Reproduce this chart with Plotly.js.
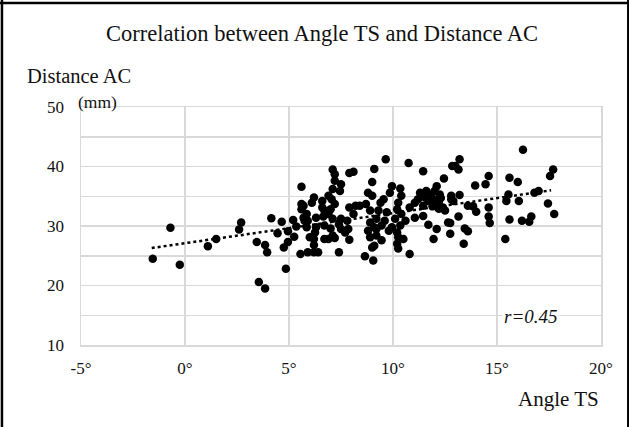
<!DOCTYPE html>
<html>
<head>
<meta charset="utf-8">
<script src="https://cdn.plot.ly/plotly-3.0.1.min.js"></script>
<style>
html,body{margin:0;padding:0;background:#fff;}
#chart{width:629px;height:427px;}
</style>
</head>
<body>
<div id="chart"></div>
<script>
// Angle TS (degrees) and Distance AC (mm)
const angleTS = [
 -1.55,-0.7,-0.25,1.1,1.5,2.7,2.6,3.45,3.85,3.95,3.55,3.85,4.15,4.85,4.45,4.65,4.95,4.75,4.95,5.25,5.2,5.35,5.6,5.6,5.6,5.55,5.75,
 7.1,7.2,7.9,8.1,9.1,7.2,7.5,7.45,7.1,9.0,8.8,9.0,6.2,6.1,5.7,6.6,6.9,7.05,6.6,6.7,7.0,7.2,7.9,8.2,8.4,8.7,8.9,8.1,9.4,5.85,5.9,5.7,6.3,6.65,6.9,7.1,7.5,7.4,7.8,5.85,6.3,6.7,7.0,6.25,6.0,7.5,7.7,7.85,8.9,8.8,9.1,8.9,9.2,6.2,6.2,6.7,6.9,7.1,7.2,7.9,9.0,9.1,5.9,6.2,6.4,7.4,8.65,9.05,
 9.65,10.75,11.45,12.85,12.45,9.95,10.35,9.85,10.4,9.55,10.25,12.1,12.0,12.25,11.8,11.55,11.2,11.05,11.7,11.95,12.2,12.4,12.8,11.45,10.8,9.3,9.7,10.2,10.4,11.05,11.45,12.5,9.2,9.6,10.1,10.6,9.45,9.95,10.35,11.7,12.65,9.2,9.8,10.2,12.1,12.75,10.25,10.5,11.95,9.45,10.2,10.25,10.8,
 11.3,11.9,12.2,11.6,12.3,
 16.25,13.2,13.0,13.15,14.6,15.6,16.0,13.95,14.45,15.55,12.8,13.2,12.9,15.45,16.05,13.6,13.85,14.0,14.6,14.6,13.15,15.6,16.2,14.65,12.75,13.45,13.6,15.4,13.4,
 17.7,17.55,17.0,16.8,17.45,17.75,16.65,16.55
];
const distanceAC = [
 24.5,29.7,23.5,26.6,27.8,30.6,29.4,27.3,26.8,25.6,20.6,19.5,31.3,22.8,28.8,30.7,29.1,26.4,27.3,28.2,31.0,29.9,36.6,33.7,32.8,25.3,30.9,
 39.5,38.7,38.9,39.1,39.6,37.6,37.0,35.9,36.2,37.4,35.6,35.1,34.8,33.9,33.4,34.2,35.1,34.5,33.1,32.6,32.8,33.7,33.1,33.4,33.4,33.7,32.6,32.0,33.9,32.0,30.9,31.4,31.4,31.6,32.0,31.2,31.2,30.3,30.9,29.8,29.8,30.1,29.6,28.9,28.1,29.5,28.9,29.5,30.6,29.2,29.8,28.1,28.4,27.8,26.8,27.8,27.8,28.4,28.0,27.7,26.4,26.7,25.6,25.6,25.6,25.6,24.9,24.2,
 41.2,40.6,39.2,40.1,38.0,36.7,36.3,35.6,35.1,34.5,33.9,36.7,35.9,35.3,35.3,34.8,34.5,33.9,34.2,34.5,33.9,33.1,34.5,33.4,33.1,32.6,32.3,32.8,32.0,31.4,31.7,32.6,31.2,30.9,31.2,30.9,30.1,29.8,30.1,30.2,30.6,29.5,29.2,28.9,29.5,28.7,28.1,27.8,27.8,27.6,27.0,26.2,25.3,
 35.6,33.3,32.9,35.9,34.7,
 42.8,41.2,40.1,39.5,38.4,38.1,37.4,36.8,37.0,35.3,35.1,35.2,34.2,34.2,34.2,33.4,33.3,32.4,33.1,31.6,31.6,31.1,30.9,30.5,30.5,29.6,29.1,27.8,27.0,
 39.5,38.4,35.9,35.6,33.8,32.0,31.6,30.7
];
// Linear trendline end points
const trendX = [-1.6, 17.6];
const trendY = [26.3, 36.0];
const xTickVals = [-5, 0, 5, 10, 15, 20];
const xTickText = ["-5°", "0°", "5°", "10°", "15°", "20°"];
const yTickVals = [10, 15, 20, 25, 30, 35, 40, 45, 50];
const yTickText = ["10", "", "20", "", "30", "", "40", "", "50"];
const rLabel = "r=0.45";

const serif = "Liberation Serif, Times New Roman, serif";
const grid = "#d9d9d9";
const ink = "#111";

const traces = [
  {x: angleTS, y: distanceAC, type: "scatter", mode: "markers",
   marker: {color: "#000", size: 8.5}, hoverinfo: "x+y"},
  {x: trendX, y: trendY, type: "scatter", mode: "lines",
   line: {color: "#000", width: 2.5, dash: "dot"}, hoverinfo: "skip"}
];

const layout = {
  width: 629, height: 427,
  margin: {l: 81, r: 28, t: 107, b: 82},
  paper_bgcolor: "#fff", plot_bgcolor: "#fff",
  showlegend: false,
  font: {family: serif, color: ink, size: 16},
  title: {text: "Correlation between Angle TS and Distance AC",
    font: {family: serif, size: 22.5, color: ink},
    x: 0.512, xanchor: "center", y: 0.922, yanchor: "middle"},
  xaxis: {range: [-5, 20], tickvals: xTickVals, ticktext: xTickText,
    showgrid: true, gridcolor: grid, gridwidth: 1.5,
    zeroline: false, showline: true, linecolor: grid, linewidth: 1.5, mirror: true,
    ticks: "outside", ticklen: 7, tickcolor: "rgba(0,0,0,0)",
    tickfont: {family: serif, size: 17, color: ink}, fixedrange: true},
  yaxis: {range: [10, 50], tickvals: yTickVals, ticktext: yTickText,
    showgrid: true, gridcolor: grid, gridwidth: 1.5,
    zeroline: false, showline: true, linecolor: grid, linewidth: 1.5, mirror: true,
    ticks: "outside", ticklen: 12, tickcolor: "rgba(0,0,0,0)",
    tickfont: {family: serif, size: 17, color: ink}, fixedrange: true},
  annotations: [
    {text: "Distance AC", xref: "paper", yref: "paper", x: -0.108, y: 1.13,
     xanchor: "left", yanchor: "middle", showarrow: false,
     font: {family: serif, size: 20.5, color: ink}},
    {text: "(mm)", xref: "paper", yref: "paper", x: -0.01, y: 1.02,
     xanchor: "left", yanchor: "middle", showarrow: false,
     font: {family: serif, size: 17.5, color: ink}},
    {text: "Angle TS", xref: "paper", yref: "paper", x: 1.0, y: -0.225,
     xanchor: "right", yanchor: "middle", showarrow: false,
     font: {family: serif, size: 21, color: ink}},
    {text: "<i>" + rLabel + "</i>", xref: "x", yref: "y", x: 16.6, y: 14.8,
     xanchor: "center", yanchor: "middle", showarrow: false, bgcolor: "#fff",
     borderpad: 1,
     font: {family: serif, size: 19, color: ink}}
  ],
  shapes: [
    {type: "line", xref: "paper", yref: "paper", x0: -0.152, x1: -0.152, y0: -0.5, y1: 1.6,
     line: {color: "#000", width: 2.5}},
    {type: "line", xref: "paper", yref: "paper", x0: -0.3, x1: 1.3, y0: 1.437, y1: 1.437,
     line: {color: "#000", width: 2.5}},
    {type: "line", xref: "paper", yref: "paper", x0: 1.052, x1: 1.052, y0: -0.5, y1: 1.6,
     line: {color: "#000", width: 2}}
  ]
};

Plotly.newPlot("chart", traces, layout, {displayModeBar: false, staticPlot: true});
</script>
</body>
</html>
